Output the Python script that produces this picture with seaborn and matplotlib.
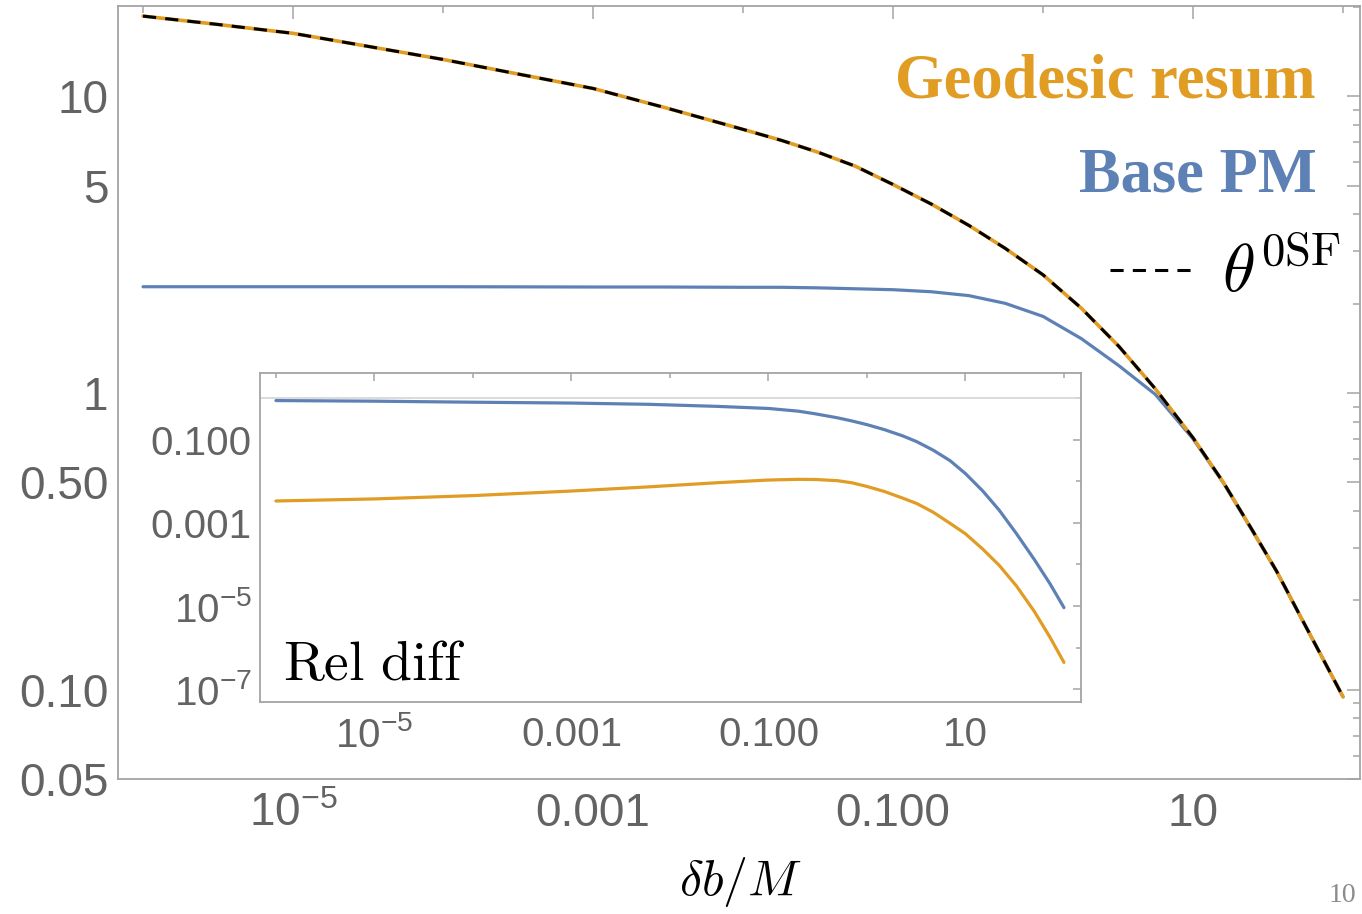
import matplotlib
matplotlib.use("Agg")
import matplotlib.pyplot as plt
import seaborn as sns
from matplotlib.lines import Line2D
from matplotlib.ticker import FixedLocator, FixedFormatter, NullFormatter

# ---- main panel: deflection angle vs impact-parameter offset ----
delta_b = [1e-6, 3e-6, 1e-5, 3e-5, 1e-4, 3e-4, 1e-3, 3e-3, 0.01, 0.018, 0.032, 0.056,
           0.1, 0.18, 0.32, 0.56, 1.0, 1.8, 3.2, 5.6, 10.0, 16.0, 24.0, 36.0, 51.0,
           71.0, 100.0]
theta_0sf = [18.62, 17.50, 16.29, 14.79, 13.30, 11.94, 10.62, 9.16, 7.73, 7.10, 6.46, 5.81,
             5.04, 4.33, 3.67, 3.07, 2.50, 1.93, 1.436, 1.033, 0.706, 0.4977, 0.3548,
             0.2512, 0.1799, 0.1312, 0.0946]
geodesic_resum = [18.62, 17.50, 16.29, 14.79, 13.30, 11.94, 10.62, 9.16, 7.73, 7.10, 6.46,
                  5.81, 5.04, 4.33, 3.67, 3.07, 2.50, 1.93, 1.436, 1.033, 0.706, 0.4977,
                  0.3548, 0.2512, 0.1799, 0.1312, 0.0946]
base_pm = [2.28, 2.28, 2.28, 2.28, 2.28, 2.278, 2.275, 2.275, 2.27, 2.27, 2.26, 2.244,
           2.228, 2.193, 2.128, 2.004, 1.811, 1.524, 1.236, 0.989, 0.700, 0.4955, 0.3532,
           0.2506, 0.1795, 0.1312, 0.0946]

# ---- inset: relative difference to theta^0SF ----
delta_b_rel = [1e-6, 1e-5, 1e-4, 1e-3, 0.006, 0.03, 0.1, 0.2, 0.3, 0.5, 0.7, 1.0,
               1.5, 2.3, 3.2, 4.7, 7.0, 10.0, 15.0, 22.0, 33.0, 50.0, 72.0, 100.0]
rel_base_pm = [0.891, 0.861, 0.813, 0.776, 0.724, 0.646, 0.575, 0.4955, 0.4266, 0.3428,
               0.2884, 0.2344, 0.1778, 0.1259, 0.0912, 0.0569, 0.0316, 0.0155, 0.00589,
               0.00204, 0.00055, 0.000132, 3.47e-5, 9.12e-6]
rel_geodesic = [0.00339, 0.0038, 0.00457, 0.00589, 0.00741, 0.00933, 0.01084, 0.01127,
                0.01117, 0.01047, 0.00933, 0.00759, 0.00575, 0.00398, 0.00295, 0.00182,
                0.000977, 0.00055, 0.000234, 9.55e-5, 3.02e-5, 7.41e-6, 1.78e-6, 4.37e-7]

main_xticks = [1e-5, 1e-3, 1e-1, 10]
main_xlabels = [r"$10^{-5}$", "0.001", "0.100", "10"]
main_xminor = [1e-6, 1e-4, 1e-2, 1, 100]
main_yticks = [0.05, 0.1, 0.5, 1, 5, 10]
main_ylabels = ["0.05", "0.10", "0.50", "1", "5", "10"]
main_yminor = [0.06, 0.07, 0.08, 0.09, 0.2, 0.3, 0.4, 0.6, 0.7, 0.8, 0.9,
               2, 3, 4, 6, 7, 8, 9, 20]
inset_yticks = [1e-1, 1e-3, 1e-5, 1e-7]
inset_ylabels = ["0.100", "0.001", r"$10^{-5}$", r"$10^{-7}$"]
inset_yminor = [1, 1e-2, 1e-4, 1e-6]

BLUE = "#5E81B5"
ORANGE = "#E19C24"
FRAME = "#a4a4a4"
TICKTXT = "#636363"

sns.set_theme(style="white")
plt.rcParams.update({
    "font.family": ["Liberation Sans", "DejaVu Sans"],
    "mathtext.fontset": "custom",
    "mathtext.rm": "Liberation Sans",
    "mathtext.it": "Liberation Sans:italic",
    "mathtext.bf": "Liberation Sans:bold",
    "mathtext.default": "it",
})

W, H = 1362, 914
fig = plt.figure(figsize=(W / 100, H / 100), dpi=100)
fig.patch.set_facecolor("white")


def px_axes(left, top, right, bottom):
    return [left / W, 1 - bottom / H, (right - left) / W, (bottom - top) / H]


def style_frame(a, major_len, minor_len, labelsize, xpad, ypad):
    for s in a.spines.values():
        s.set_color(FRAME)
        s.set_linewidth(1.3)
    a.tick_params(which="both", direction="in", top=True, right=True,
                  color=FRAME, width=1.1)
    a.tick_params(which="major", length=major_len, labelsize=labelsize,
                  labelcolor=TICKTXT)
    a.tick_params(axis="x", which="major", pad=xpad)
    a.tick_params(axis="y", which="major", pad=ypad)
    a.tick_params(which="minor", length=minor_len)


ax = fig.add_axes(px_axes(118, 6, 1360, 779))
ax.set_xscale("log")
ax.set_yscale("log")
sns.lineplot(x=delta_b, y=base_pm, color=BLUE, lw=2.3, ax=ax)
sns.lineplot(x=delta_b, y=geodesic_resum, color=ORANGE, lw=2.6, ax=ax)
sns.lineplot(x=delta_b, y=theta_0sf, color="black", lw=2.2,
             linestyle=(0, (4.3, 3.0)), ax=ax)
ax.set_xlim(10 ** -6.167, 10 ** 2.113)
ax.set_ylim(0.05, 10 ** 1.304)
ax.xaxis.set_major_locator(FixedLocator(main_xticks))
ax.xaxis.set_major_formatter(FixedFormatter(main_xlabels))
ax.xaxis.set_minor_locator(FixedLocator(main_xminor))
ax.xaxis.set_minor_formatter(NullFormatter())
ax.yaxis.set_major_locator(FixedLocator(main_yticks))
ax.yaxis.set_major_formatter(FixedFormatter(main_ylabels))
ax.yaxis.set_minor_locator(FixedLocator(main_yminor))
ax.yaxis.set_minor_formatter(NullFormatter())
style_frame(ax, 9.4, 5.0, 33, 9.5, 7)
ax.set_xlabel("")
ax.set_ylabel("")

# inset
axi = fig.add_axes(px_axes(260, 373, 1081, 702))
axi.set_facecolor("white")
axi.set_xscale("log")
axi.set_yscale("log")
axi.axhline(1.0, color="#d8d8d8", lw=1.3, zorder=1)
sns.lineplot(x=delta_b_rel, y=rel_base_pm, color=BLUE, lw=2.3, ax=axi)
sns.lineplot(x=delta_b_rel, y=rel_geodesic, color=ORANGE, lw=2.3, ax=axi)
axi.set_xlim(10 ** -6.162, 10 ** 2.173)
axi.set_ylim(10 ** -7.313, 10 ** 0.614)
axi.xaxis.set_major_locator(FixedLocator(main_xticks))
axi.xaxis.set_major_formatter(FixedFormatter(main_xlabels))
axi.xaxis.set_minor_locator(FixedLocator(main_xminor))
axi.xaxis.set_minor_formatter(NullFormatter())
axi.yaxis.set_major_locator(FixedLocator(inset_yticks))
axi.yaxis.set_major_formatter(FixedFormatter(inset_ylabels))
axi.yaxis.set_minor_locator(FixedLocator(inset_yminor))
axi.yaxis.set_minor_formatter(NullFormatter())
style_frame(axi, 5.8, 3.8, 29, 10, 6)
axi.set_xlabel("")
axi.set_ylabel("")
fig.text(283 / W, 1 - 680 / H, r"$\mathrm{Rel\ diff}$", fontsize=40,
         color="black", math_fontfamily="cm", ha="left", va="baseline")

# legend entries as coloured labels
fig.text(1316 / W, 1 - 97 / H, "Geodesic resum", fontsize=45, color=ORANGE,
         family="Liberation Serif", weight="bold", ha="right", va="baseline")
fig.text(1317 / W, 1 - 192 / H, "Base PM", fontsize=45, color=BLUE,
         family="Liberation Serif", weight="bold", ha="right", va="baseline")
fig.add_artist(Line2D([1110 / W, 1195 / W], [1 - 270 / H, 1 - 270 / H],
                      color="black", lw=2.2, linestyle=(0, (4.3, 3.0)),
                      transform=fig.transFigure))
fig.text(1222 / W, 1 - 292 / H, r"$\theta^{\mathrm{0SF}}$", fontsize=48,
         color="black", math_fontfamily="cm", ha="left", va="baseline")

# axis label and page number
fig.text(741 / W, 1 - 895 / H, r"$\delta b/M$", fontsize=36, color="black",
         math_fontfamily="cm", ha="center", va="baseline")
fig.text(1356 / W, 1 - 902 / H, "10", fontsize=20, color="#8c8c8c",
         family="Liberation Serif", ha="right", va="baseline")

fig.savefig("out.png", dpi=100, facecolor="white")
